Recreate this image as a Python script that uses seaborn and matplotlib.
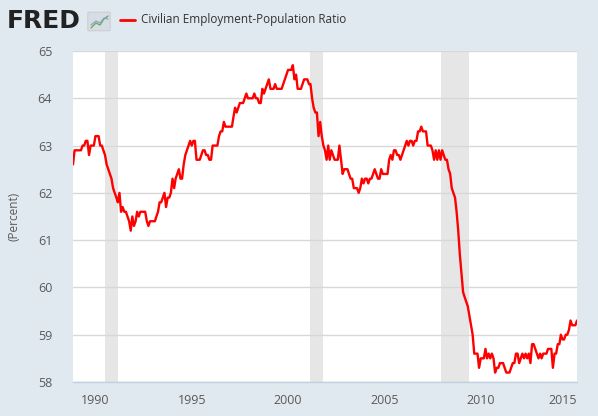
import numpy as np
import pandas as pd
import matplotlib
matplotlib.use("Agg")
import matplotlib.pyplot as plt
import matplotlib.dates as mdates
from matplotlib.patches import FancyBboxPatch
from matplotlib.lines import Line2D
import seaborn as sns

# ==================== DATA ====================

START_MONTH = "1988-11-01"

# monthly values, Nov 1988 .. Jan 2015
EMRATIO = [
    62.6, 62.9,
    62.9, 62.9, 62.9, 62.9, 63.0, 63.0, 63.1, 63.1, 62.8, 63.0, 63.0, 63.0,   # 1989
    63.2, 63.2, 63.2, 63.0, 63.0, 62.9, 62.8, 62.6, 62.5, 62.4, 62.3, 62.1,   # 1990
    62.0, 61.9, 61.8, 62.0, 61.6, 61.7, 61.6, 61.6, 61.5, 61.4, 61.2, 61.5,   # 1991
    61.3, 61.4, 61.6, 61.5, 61.6, 61.6, 61.6, 61.6, 61.4, 61.3, 61.4, 61.4,   # 1992
    61.4, 61.4, 61.5, 61.6, 61.8, 61.8, 61.9, 62.0, 61.7, 61.9, 61.9, 62.0,   # 1993
    62.3, 62.1, 62.3, 62.4, 62.5, 62.3, 62.3, 62.6, 62.8, 62.9, 63.0, 63.1,   # 1994
    63.0, 63.1, 63.1, 62.7, 62.7, 62.7, 62.8, 62.9, 62.9, 62.8, 62.8, 62.7,   # 1995
    62.7, 63.0, 63.0, 63.0, 63.0, 63.2, 63.3, 63.3, 63.5, 63.4, 63.4, 63.4,   # 1996
    63.4, 63.4, 63.6, 63.8, 63.7, 63.8, 63.9, 63.9, 63.9, 64.0, 64.1, 64.0,   # 1997
    64.0, 64.0, 64.0, 64.1, 64.0, 64.0, 63.9, 63.9, 64.2, 64.1, 64.2, 64.3,   # 1998
    64.4, 64.2, 64.2, 64.2, 64.3, 64.2, 64.2, 64.2, 64.2, 64.3, 64.4, 64.5,   # 1999
    64.6, 64.6, 64.6, 64.7, 64.4, 64.5, 64.2, 64.2, 64.2, 64.3, 64.4, 64.4,   # 2000
    64.4, 64.3, 64.3, 64.0, 63.8, 63.7, 63.7, 63.2, 63.5, 63.2, 63.0, 62.9,   # 2001
    62.7, 63.0, 62.7, 62.9, 62.8, 62.7, 62.7, 62.7, 63.0, 62.7, 62.4, 62.5,   # 2002
    62.5, 62.5, 62.4, 62.3, 62.3, 62.1, 62.1, 62.1, 62.0, 62.1, 62.3, 62.2,   # 2003
    62.3, 62.3, 62.2, 62.3, 62.3, 62.4, 62.5, 62.4, 62.3, 62.3, 62.5, 62.4,   # 2004
    62.4, 62.4, 62.4, 62.7, 62.8, 62.7, 62.9, 62.9, 62.8, 62.8, 62.7, 62.8,   # 2005
    62.9, 63.0, 63.1, 63.0, 63.1, 63.1, 63.0, 63.1, 63.1, 63.3, 63.3, 63.4,   # 2006
    63.3, 63.3, 63.3, 63.0, 63.0, 63.0, 62.9, 62.7, 62.9, 62.7, 62.9, 62.7,   # 2007
    62.9, 62.8, 62.7, 62.7, 62.5, 62.4, 62.1, 62.0, 61.9, 61.6, 61.2, 60.7,   # 2008
    60.3, 59.9, 59.8, 59.7, 59.6, 59.4, 59.2, 59.0, 58.6, 58.6, 58.6, 58.3,   # 2009
    58.5, 58.5, 58.5, 58.7, 58.5, 58.6, 58.5, 58.6, 58.5, 58.2, 58.3, 58.3,   # 2010
    58.4, 58.4, 58.4, 58.3, 58.2, 58.2, 58.2, 58.3, 58.4, 58.4, 58.6, 58.6,   # 2011
    58.4, 58.5, 58.6, 58.5, 58.6, 58.5, 58.6, 58.4, 58.8, 58.8, 58.7, 58.6,   # 2012
    58.5, 58.6, 58.5, 58.6, 58.6, 58.6, 58.7, 58.7, 58.7, 58.3, 58.6, 58.6,   # 2013
    58.8, 58.8, 59.0, 58.9, 58.9, 59.0, 59.0, 59.1, 59.3, 59.2, 59.2, 59.2,   # 2014
    59.3,                                                                     # 2015
]

RECESSION_START = ["1990-07-01", "2001-03-01", "2007-12-01"]
RECESSION_END = ["1991-03-01", "2001-11-01", "2009-06-01"]

Y_TICKS = [58, 59, 60, 61, 62, 63, 64, 65]
SERIES_NAME = "Civilian Employment-Population Ratio"

# ==================== STYLE ====================

BG = "#e1e9f0"
TXT = "#595959"
RED = "#ff0000"

sns.set_theme(style="white")
plt.rcParams["font.family"] = ["Open Sans", "DejaVu Sans"]

df = pd.DataFrame({
    "date": pd.date_range(START_MONTH, periods=len(EMRATIO), freq="MS"),
    "value": EMRATIO,
})

fig = plt.figure(figsize=(5.98, 4.16), dpi=100, facecolor=BG)
ax = fig.add_axes([73 / 598, 1 - 382 / 416, 504 / 598, 331 / 416])
ax.set_facecolor("white")

for s, e in zip(RECESSION_START, RECESSION_END):
    ax.axvspan(pd.Timestamp(s), pd.Timestamp(e), color="#e6e6e6", lw=0, zorder=0)

sns.lineplot(data=df, x="date", y="value", color=RED, linewidth=1.7, ax=ax, zorder=3)

ax.set_xlim(df["date"].iloc[0], df["date"].iloc[-1])
ax.set_ylim(58, 65)
ax.set_yticks(Y_TICKS)
ax.yaxis.grid(True, color="#d8d8d8", linewidth=1)
ax.xaxis.grid(False)
ax.set_axisbelow(True)

ax.xaxis.set_major_locator(mdates.YearLocator(5))
ax.xaxis.set_major_formatter(mdates.DateFormatter("%Y"))

for side in ["top", "right", "left"]:
    ax.spines[side].set_visible(False)
ax.spines["bottom"].set_color("#c0d0e0")
ax.spines["bottom"].set_linewidth(1)

ax.tick_params(axis="x", length=6, width=1, color="#c0d0e0", pad=3,
               labelsize=9, labelcolor=TXT)
ax.tick_params(axis="y", length=0, pad=15, labelsize=9, labelcolor=TXT)

# last year label sits flush with the right edge, as in FRED
fig.canvas.draw()
ax.get_xticklabels()[-1].set_horizontalalignment("right")
ax.get_xticklabels()[-1].set_x(ax.get_xticklabels()[-1].get_position()[0])

ax.set_xlabel("")
ax.set_ylabel("(Percent)", fontsize=8.5, color=TXT)
ax.yaxis.set_label_coords(-53 / 504, 0.5)

# ==================== HEADER ====================

fig.text(7 / 598, 1 - 21 / 416, "FRED", fontsize=18, fontweight="heavy",
         color="#222222", va="center", ha="left", family=["DejaVu Sans"])

icon = FancyBboxPatch((89 / 598, 1 - 30 / 416), 20 / 598, 17 / 416,
                      boxstyle="round,pad=0.002", transform=fig.transFigure,
                      facecolor="#d7dde2", edgecolor="#c2c9cf", lw=0.6)
fig.patches.append(icon)
fig.lines.append(Line2D([91 / 598, 96 / 598, 100 / 598, 104 / 598, 108 / 598],
                        [1 - 28 / 416, 1 - 23 / 416, 1 - 25 / 416, 1 - 19 / 416, 1 - 16 / 416],
                        transform=fig.transFigure, color="#6aa84f", lw=0.9))
fig.lines.append(Line2D([91 / 598, 96 / 598, 100 / 598, 104 / 598, 108 / 598],
                        [1 - 25 / 416, 1 - 21 / 416, 1 - 23 / 416, 1 - 18 / 416, 1 - 19 / 416],
                        transform=fig.transFigure, color="#7fa7c9", lw=0.9))

fig.lines.append(Line2D([120 / 598, 135 / 598], [1 - 20 / 416, 1 - 20 / 416],
                        transform=fig.transFigure, color=RED, lw=2))
fig.text(141 / 598, 1 - 20 / 416, SERIES_NAME, fontsize=8.5, color="#333333",
         va="center", ha="left")

fig.savefig("out.png", dpi=100, facecolor=BG)
